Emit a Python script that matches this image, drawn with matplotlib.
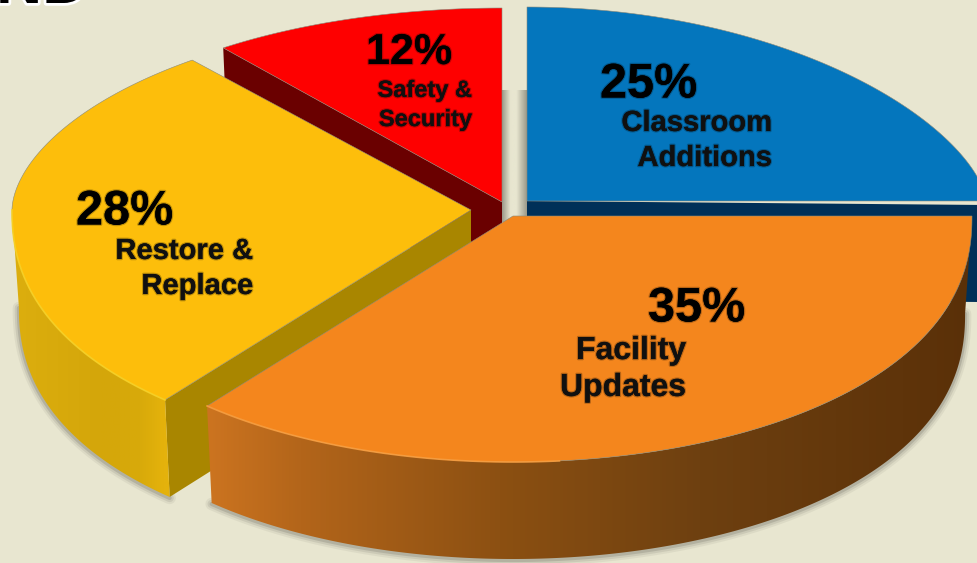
import matplotlib
matplotlib.use('Agg')
import matplotlib.pyplot as plt
import matplotlib.patheffects as pe
from matplotlib.colors import to_rgb
from matplotlib.patches import Polygon
import numpy as np

# Chart data
categories = ['Classroom\nAdditions', 'Facility\nUpdates', 'Restore &\nReplace', 'Safety &\nSecurity']
shares = [25, 35, 28, 12]
percent_labels = ['25%', '35%', '28%', '12%']

# Look of the slices
top_colors = ['#0476bd', '#f4861d', '#fdbe0b', '#fe0000']
cut_colors = ['#003058', '#7a4510', '#a98600', '#6a0000']
rim_colors = [None, '#ff9f3c', '#ffd61f', None]
apexes = [(527, 201), (513, 216), (471, 210), (502, 202)]
edge_nudge = [0, 0, 5.8, 5.8, 0]  # perspective of the original, degrees
far_power = [1.27, 1.0, 1.12, 1.0]  # rim shape of each slice on the far half
near_power = 0.88
a_radius = 459
b_far = 194
b_near = 246
depth = 97
bottom_scale = 0.985
bg = '#e8e6d0'

orange_ramp = [(208, '#cc7420'), (300, '#b3651a'), (500, '#8c5012'), (700, '#6e4010'), (972, '#5a3008')]
yellow_ramp = [(15, '#dcae0e'), (100, '#d4a60a'), (140, '#d8aa0a'), (163, '#e4b20c')]

text_pos = [(600, 85), (648, 309), (76, 212), (366, 53)]
text_sizes = [35, 35, 35, 31]
label_pos = [(772, 140.5), (686, 369.5), (253, 268.5), (472, 105)]
label_sizes = [21, 23, 21, 17]
label_spacing = [1.32, 1.3, 1.32, 1.34]


def arc_points(apex, t0, t1, far_p, n=300):
    # t is clockwise from 12 o'clock, far half is flatter than near half
    t = np.radians(np.linspace(t0, t1, n))
    dx = a_radius * np.sin(t)
    c = np.cos(t)
    dy = np.where(c > 0, -b_far * np.abs(c) ** far_p, b_near * np.abs(c) ** near_power)
    return apex[0] + dx, apex[1] + dy


def lower(apex, x, y):
    return apex[0] + (x - apex[0]) * bottom_scale, y + depth


def gradient_wall(ax, xs, ys, ramp, z):
    poly = Polygon(np.column_stack([xs, ys]), closed=True, fc='none', ec='none', zorder=z)
    ax.add_patch(poly)
    stops = [r[0] for r in ramp]
    rgb = np.array([to_rgb(r[1]) for r in ramp])
    grid = np.linspace(min(xs), max(xs), 400)
    img = np.stack([np.interp(grid, stops, rgb[:, k]) for k in range(3)], axis=1)[None, :, :]
    im = ax.imshow(img, extent=[min(xs), max(xs), max(ys), min(ys)], aspect='auto', zorder=z)
    im.set_clip_path(poly)


fig = plt.figure(figsize=(9.77, 5.63), dpi=100, facecolor=bg)
ax = fig.add_axes([0, 0, 1, 1])
ax.set_facecolor(bg)

# Cropped title above the pie
ax.text(88, 3, 'ND', ha='right', va='baseline', fontsize=46, fontweight='bold', family='Liberation Sans',
        color='black', path_effects=[pe.withStroke(linewidth=4, foreground='white')], zorder=1)

# Shadows inside the gap between the two back slices
gap = np.array([to_rgb('#9c9a8a'), to_rgb(bg), to_rgb(bg), to_rgb('#9c9a8a')])
gap_stops = np.linspace(0, 1, 60)
gap_img = np.stack([np.interp(gap_stops, [0, 0.34, 0.58, 1], gap[:, k]) for k in range(3)], axis=1)[None, :, :]
ax.imshow(gap_img, extent=[502, 527, 222, 90], aspect='auto', zorder=1)

# Slice angles from the shares
edges = np.concatenate([[0], np.cumsum(shares) / np.sum(shares) * 360]) + np.array(edge_nudge)

# Back to front: red, blue, yellow, orange
for z, i in enumerate([3, 0, 2, 1]):
    base = 10 + z * 10
    apex = apexes[i]
    t0, t1 = edges[i], edges[i + 1]
    ax_, ay_ = arc_points(apex, t0, t1, far_power[i])

    # cut face that shows below the top surface
    if i == 3:
        ex, ey = ax_[0], ay_[0]
    elif i == 0:
        ex, ey = ax_[-1], ay_[-1] + 4
    elif i == 2:
        ex, ey = ax_[0], ay_[0]
    else:
        ex, ey = None, None
    if ex is not None:
        lx, ly = lower(apex, ex, ey)
        ax.add_patch(Polygon([apex, (ex, ey), (lx, ly), (apex[0], apex[1] + depth)], closed=True,
                             fc=cut_colors[i], ec='none', zorder=base))

    # outer wall, only the part on the near half
    if rim_colors[i] is not None:
        vis0, vis1 = max(t0, 90), min(t1, 270)
        wx, wy = arc_points(apex, vis0, vis1, far_power[i])
        bx, by = lower(apex, wx, wy)
        for lw, alpha in [(9, 0.08), (6, 0.12), (3, 0.2)]:
            ax.plot(bx, by + 1, color='#55554a', lw=lw, alpha=alpha, zorder=base - 1, solid_capstyle='round')
        ramp = orange_ramp if i == 1 else yellow_ramp
        gradient_wall(ax, np.concatenate([wx, bx[::-1]]), np.concatenate([wy, by[::-1]]), ramp, base + 1)

    # top surface
    ax.add_patch(Polygon(np.column_stack([np.r_[apex[0], ax_], np.r_[apex[1], ay_]]), closed=True,
                         fc=top_colors[i], ec='#8a8a7a', lw=0.4, zorder=base + 2))
    if rim_colors[i] is not None:
        # thin bright bevel, on orange it fades out towards the dark side
        keep = wx < 560
        ax.plot(wx[keep], wy[keep], color=rim_colors[i], lw=1.2, alpha=0.85, zorder=base + 3)

# Percent and category text
shadow = [pe.withStroke(linewidth=1.8, foreground=(0, 0, 0, 0.25))]
for i in range(len(categories)):
    ax.text(text_pos[i][0], text_pos[i][1], percent_labels[i], ha='left', va='center', fontsize=text_sizes[i],
            fontweight='bold', family='Liberation Sans', color='black', path_effects=shadow, zorder=80)
    ax.text(label_pos[i][0], label_pos[i][1], categories[i], ha='right', va='center', fontsize=label_sizes[i],
            fontweight='bold', family='Liberation Sans', color='#101010', multialignment='right',
            linespacing=label_spacing[i], path_effects=shadow, zorder=80)

ax.set_xlim(0, 977)
ax.set_ylim(563, 0)
ax.axis('off')

fig.savefig('out.png', dpi=100, facecolor=bg)
plt.close(fig)
